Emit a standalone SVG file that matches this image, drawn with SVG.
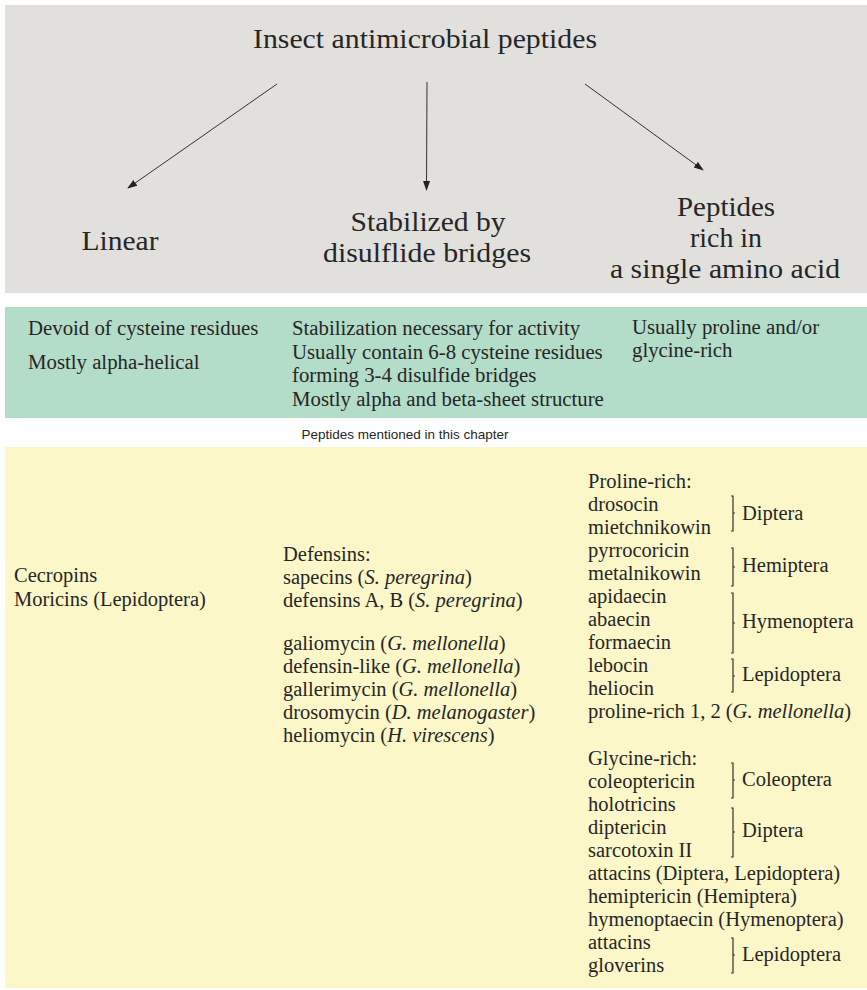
<svg xmlns="http://www.w3.org/2000/svg" width="867" height="990" viewBox="0 0 867 990">
<defs>
<marker id="ah" markerWidth="10" markerHeight="10" refX="9" refY="5" orient="auto" markerUnits="userSpaceOnUse">
<path d="M0,1.5 L10,5 L0,8.5 Z" fill="#222"/>
</marker>
<style>
.t{font-family:"Liberation Serif","Times New Roman",serif;fill:#262626}
.big{font-size:28px}
.g{font-size:20.8px}
.y{font-size:20.5px}
.s{font-family:"Liberation Sans",Arial,sans-serif;font-size:13.5px;fill:#262626}
.br{fill:none;stroke:#333;stroke-width:1.2}
.ar{stroke:#333;stroke-width:1;fill:none}
.it{font-style:italic}
</style>
</defs>
<rect x="5" y="5" width="862" height="288" fill="#e2e0dc"/>
<rect x="5" y="307" width="862" height="111" fill="#b3dcc9"/>
<rect x="5" y="447" width="862" height="541" fill="#fbf7c8"/>

<g id="connectors">
<line class="ar" x1="277" y1="84" x2="128" y2="188" marker-end="url(#ah)"/>
<line class="ar" x1="427" y1="82" x2="426.5" y2="190" marker-end="url(#ah)"/>
<line class="ar" x1="585" y1="84" x2="703" y2="170" marker-end="url(#ah)"/>
</g>

<g id="root"><text class="t big" x="425" y="48" text-anchor="middle" textLength="344" lengthAdjust="spacingAndGlyphs">Insect antimicrobial peptides</text></g>
<g id="linear"><text class="t big" x="120" y="250" text-anchor="middle" textLength="77" lengthAdjust="spacingAndGlyphs">Linear</text></g>
<g id="stabilized">
<text class="t big" x="428" y="231" text-anchor="middle" textLength="155" lengthAdjust="spacingAndGlyphs">Stabilized by</text>
<text class="t big" x="427" y="262" text-anchor="middle" textLength="208" lengthAdjust="spacingAndGlyphs">disulflide bridges</text>
</g>
<g id="rich">
<text class="t big" x="726" y="216" text-anchor="middle" textLength="98" lengthAdjust="spacingAndGlyphs">Peptides</text>
<text class="t big" x="726" y="247" text-anchor="middle" textLength="72" lengthAdjust="spacingAndGlyphs">rich in</text>
<text class="t big" x="725" y="278" text-anchor="middle" textLength="230" lengthAdjust="spacingAndGlyphs">a single amino acid</text>
</g>

<g id="green-linear" class="t g">
<text x="28" y="335">Devoid of cysteine residues</text>
<text x="28" y="369">Mostly alpha-helical</text>
</g>
<g id="green-stabilized" class="t g">
<text x="292" y="335">Stabilization necessary for activity</text>
<text x="292" y="359">Usually contain 6-8 cysteine residues</text>
<text x="292" y="382">forming 3-4 disulfide bridges</text>
<text x="292" y="406">Mostly alpha and beta-sheet structure</text>
</g>
<g id="green-rich" class="t g">
<text x="632" y="334">Usually proline and/or</text>
<text x="632" y="357">glycine-rich</text>
</g>

<g id="caption"><text class="s" x="405" y="439" text-anchor="middle">Peptides mentioned in this chapter</text></g>

<g id="yellow-linear" class="t y">
<text x="14" y="582">Cecropins</text>
<text x="14" y="606">Moricins (Lepidoptera)</text>
</g>

<g id="yellow-stabilized" class="t y">
<text x="283" y="561">Defensins:</text>
<text x="283" y="584">sapecins (<tspan class="it">S. peregrina</tspan>)</text>
<text x="283" y="607">defensins A, B (<tspan class="it">S. peregrina</tspan>)</text>
<text x="283" y="650">galiomycin (<tspan class="it">G. mellonella</tspan>)</text>
<text x="283" y="673">defensin-like (<tspan class="it">G. mellonella</tspan>)</text>
<text x="283" y="696">gallerimycin (<tspan class="it">G. mellonella</tspan>)</text>
<text x="283" y="719">drosomycin (<tspan class="it">D. melanogaster</tspan>)</text>
<text x="283" y="742">heliomycin (<tspan class="it">H. virescens</tspan>)</text>
</g>

<g id="yellow-proline" class="t y">
<text x="588" y="488">Proline-rich:</text>
<text x="588" y="511">drosocin</text>
<text x="588" y="534">mietchnikowin</text>
<text x="588" y="557">pyrrocoricin</text>
<text x="588" y="580">metalnikowin</text>
<text x="588" y="603">apidaecin</text>
<text x="588" y="626">abaecin</text>
<text x="588" y="649">formaecin</text>
<text x="588" y="672">lebocin</text>
<text x="588" y="695">heliocin</text>
<text x="588" y="718">proline-rich 1, 2 (<tspan class="it">G. mellonella</tspan>)</text>
<path class="br" d="M731,496 h2 V531 h-2 M733,513 h2"/>
<text x="742" y="520">Diptera</text>
<path class="br" d="M731,548 h2 V586 h-2 M733,567 h2"/>
<text x="742" y="572">Hemiptera</text>
<path class="br" d="M731,593 h2 V653 h-2 M733,623 h2"/>
<text x="742" y="628">Hymenoptera</text>
<path class="br" d="M731,659 h2 V692 h-2 M733,676 h2"/>
<text x="742" y="681">Lepidoptera</text>
</g>

<g id="yellow-glycine" class="t y">
<text x="588" y="765">Glycine-rich:</text>
<text x="588" y="788">coleoptericin</text>
<text x="588" y="811">holotricins</text>
<text x="588" y="834">diptericin</text>
<text x="588" y="857">sarcotoxin II</text>
<text x="588" y="880">attacins (Diptera, Lepidoptera)</text>
<text x="588" y="903">hemiptericin (Hemiptera)</text>
<text x="588" y="926">hymenoptaecin (Hymenoptera)</text>
<text x="588" y="949">attacins</text>
<text x="588" y="972">gloverins</text>
<path class="br" d="M731,763 h2 V798 h-2 M733,780 h2"/>
<text x="742" y="786">Coleoptera</text>
<path class="br" d="M731,808 h2 V857 h-2 M733,832 h2"/>
<text x="742" y="837">Diptera</text>
<path class="br" d="M731,938 h2 V973 h-2 M733,955 h2"/>
<text x="742" y="961">Lepidoptera</text>
</g>
</svg>
